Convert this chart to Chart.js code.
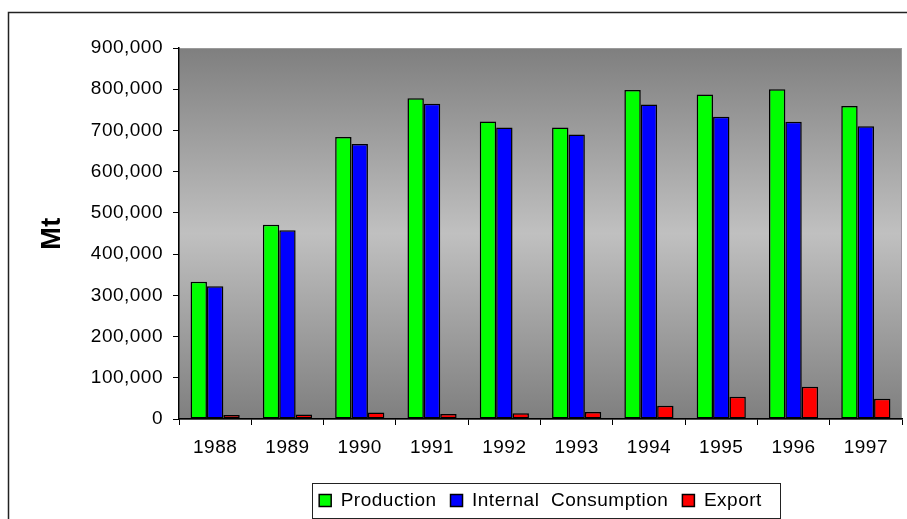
<!DOCTYPE html>
<html>
<head>
<meta charset="utf-8">
<script src="https://cdn.jsdelivr.net/npm/chart.js@4/dist/chart.umd.min.js"></script>
<style>
  html, body { margin: 0; padding: 0; background: #ffffff; }
  #wrap { width: 907px; height: 519px; position: relative; }
</style>
</head>
<body>
<div id="wrap"><canvas id="c" width="907" height="519"></canvas></div>
<script>
const years = ['1988', '1989', '1990', '1991', '1992', '1993', '1994', '1995', '1996', '1997'];
const production = [333000, 471000, 684000, 778000, 722000, 707000, 798000, 787000, 800000, 759000];
const internalConsumption = [322000, 458000, 667000, 765000, 707000, 690000, 763000, 733000, 721000, 710000];
const exportValues = [10000, 11000, 16000, 12000, 14000, 17000, 32000, 54000, 78000, 49000];
const seriesNames = ['Production', 'Internal  Consumption', 'Export'];
const yTickMax = 900000;
const yTickStep = 100000;

const FONT = "'Liberation Sans', Arial, sans-serif";

const spacingPlugin = {
  id: 'spacing',
  beforeUpdate(chart) { chart.ctx.letterSpacing = '0.5px'; },
  beforeDraw(chart) { chart.ctx.letterSpacing = '0.5px'; }
};

const backgroundPlugin = {
  id: 'bgPlot',
  beforeDraw(chart) {
    const ctx = chart.ctx;
    const a = chart.chartArea;
    ctx.save();
    ctx.fillStyle = '#ffffff';
    ctx.fillRect(0, 0, chart.width, chart.height);
    ctx.lineWidth = 1.5;
    ctx.strokeStyle = '#222222';
    ctx.strokeRect(8.5, 12.5, 1200, 1200);
    const g = ctx.createLinearGradient(0, a.top, 0, a.bottom);
    g.addColorStop(0, '#7f7f7f');
    g.addColorStop(0.5, '#c0c0c0');
    g.addColorStop(1, '#7f7f7f');
    ctx.fillStyle = g;
    ctx.fillRect(a.left, a.top, a.right - a.left, a.bottom - a.top);
    ctx.lineWidth = 1;
    ctx.strokeStyle = '#9a9a9a';
    ctx.strokeRect(a.left + 0.5, a.top + 0.5, a.right - a.left - 1, a.bottom - a.top);
    ctx.restore();
  },
  afterDraw(chart) {
    const lg = chart.legend;
    if (!lg || !lg.legendHitBoxes || !lg.legendHitBoxes.length) return;
    const hb = lg.legendHitBoxes;
    const first = hb[0], last = hb[hb.length - 1];
    const ctx = chart.ctx;
    ctx.save();
    ctx.lineWidth = 1;
    ctx.strokeStyle = '#222222';
    const l = Math.round(first.left - 7) + 0.5;
    const r = Math.round(last.left + last.width + 18) + 0.5;
    const t = Math.round(first.top - 8) + 0.5;
    const b = Math.round(first.top + first.height + 8) + 0.5;
    ctx.strokeRect(l, t, r - l, b - t);
    ctx.restore();
  }
};

const colors = ['#00ff00', '#0000ff', '#ff0000'];
const dataArrays = [production, internalConsumption, exportValues];

new Chart(document.getElementById('c'), {
  type: 'bar',
  data: {
    labels: years,
    datasets: seriesNames.map((name, i) => ({
      label: name,
      data: dataArrays[i],
      backgroundColor: colors[i],
      borderColor: '#000000',
      borderWidth: 1.5,
      borderSkipped: false,
      barPercentage: 1.0,
      categoryPercentage: 0.68
    }))
  },
  options: {
    responsive: false,
    animation: false,
    devicePixelRatio: 1,
    layout: { padding: { left: 0, top: 48, right: 5, bottom: -1 } },
    plugins: {
      tooltip: { enabled: false },
      legend: {
        position: 'bottom',
        fullSize: false,
        labels: {
          color: '#000000',
          font: { family: FONT, size: 19 },
          boxWidth: 12,
          boxHeight: 12,
          padding: 14,
          generateLabels(chart) {
            return chart.data.datasets.map((ds, i) => ({
              text: ds.label,
              fillStyle: ds.backgroundColor,
              strokeStyle: '#000000',
              lineWidth: 1.5,
              datasetIndex: i,
              hidden: false
            }));
          }
        }
      }
    },
    scales: {
      x: {
        grid: {
          display: true,
          drawOnChartArea: false,
          drawTicks: true,
          tickLength: 6,
          color: '#000000',
          offset: true
        },
        border: { display: true, color: '#000000', width: 1.5 },
        ticks: {
          color: '#000000',
          font: { family: FONT, size: 19 },
          padding: 11,
          maxRotation: 0
        },
        afterFit(scale) { scale.height = 58; }
      },
      y: {
        min: 0,
        max: yTickMax,
        grid: {
          display: true,
          drawOnChartArea: false,
          drawTicks: true,
          tickLength: 6,
          color: '#000000'
        },
        border: { display: true, color: '#000000', width: 1.5 },
        ticks: {
          stepSize: yTickStep,
          color: '#000000',
          font: { family: FONT, size: 19 },
          padding: 10
        },
        title: {
          display: true,
          text: 'Mt',
          color: '#000000',
          font: { family: FONT, size: 27, weight: 'bold' },
          padding: { top: 36, bottom: 0 }
        },
        afterFit(scale) { scale.width = 179; }
      }
    }
  },
  plugins: [spacingPlugin, backgroundPlugin]
});
</script>
</body>
</html>
